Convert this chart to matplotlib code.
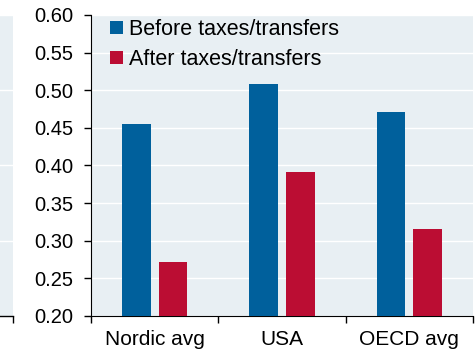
import matplotlib
matplotlib.use("Agg")
import matplotlib.pyplot as plt
import numpy as np

plt.rcParams["font.family"] = ["Liberation Sans", "DejaVu Sans"]

categories = ["Nordic avg", "USA", "OECD avg"]
before = [0.455, 0.508, 0.471]
after = [0.272, 0.391, 0.316]

blue = "#00609c"
red = "#bb0d33"
panel_bg = "#e8eff3"

fig = plt.figure(figsize=(4.77, 3.56), dpi=100)

# neighbouring panel, only its right edge shows
axl = fig.add_axes([-0.5, 0.1124, 0.5275, 0.8455])
axl.set_facecolor(panel_bg)
axl.set_xlim(0, 1)
axl.set_ylim(0.2, 0.6)
axl.set_yticks(np.arange(0.2, 0.61, 0.1))
axl.grid(axis="y", color="white", lw=1)
axl.set_axisbelow(True)
for s in ["top", "right", "left"]:
    axl.spines[s].set_visible(False)
axl.spines["bottom"].set_linewidth(1)
axl.set_xticks([1])
axl.set_xticklabels([])
axl.set_yticklabels([])
axl.tick_params(axis="x", direction="out", length=5, width=1)
axl.tick_params(axis="y", length=0)

ax = fig.add_axes([0.1908, 0.1124, 0.8008, 0.8455])
ax.set_facecolor(panel_bg)

x = np.arange(len(categories))
w = 0.225
off = 0.143
ax.bar(x - off, before, w, color=blue, label="Before taxes/transfers", zorder=3)
ax.bar(x + off, after, w, color=red, label="After taxes/transfers", zorder=3)

ax.set_xlim(-0.5, 2.5)
ax.set_ylim(0.2, 0.6)
ax.set_yticks(np.arange(0.2, 0.601, 0.05))
ax.yaxis.set_major_formatter(plt.FormatStrFormatter("%.2f"))
ax.set_xticks(x)
ax.set_xticklabels(categories)
ax.set_xticks([-0.5, 0.5, 1.5, 2.5], minor=True)
ax.tick_params(axis="x", which="major", length=0, pad=10, labelsize=15)
ax.tick_params(axis="x", which="minor", direction="out", length=5, width=1)
ax.tick_params(axis="y", direction="out", length=5, width=1, labelsize=14.5, pad=8)
ax.grid(axis="y", color="white", lw=1)
ax.set_axisbelow(True)
ax.spines["top"].set_visible(False)
ax.spines["right"].set_visible(False)

ax.legend(loc="upper left", frameon=False, fontsize=15.5, handlelength=0.6,
          handleheight=0.6, handletextpad=0.3, labelspacing=0.42,
          borderaxespad=0.0, borderpad=0.3, bbox_to_anchor=(0.033, 1.008))

fig.savefig("out.png", dpi=100)
